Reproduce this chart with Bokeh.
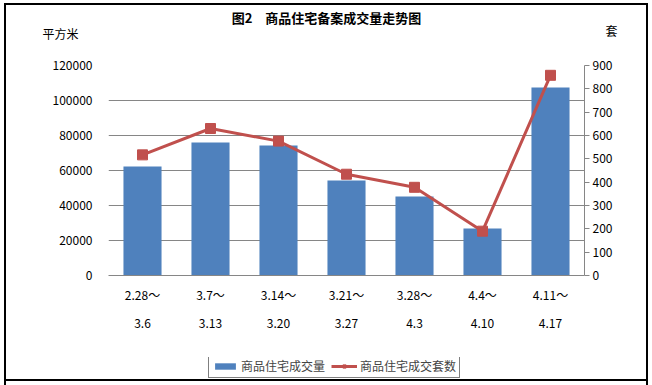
from bokeh.plotting import figure
from bokeh.layouts import column, row
from bokeh.models import (Range1d, LinearAxis, SingleIntervalTicker, NumeralTickFormatter,
                          Legend, LegendItem, FactorRange)
from bokeh.core.properties import value
from bokeh.embed import file_html
from bokeh.resources import INLINE

periods = ["2.28～\n3.6", "3.7～\n3.13", "3.14～\n3.20", "3.21～\n3.27",
           "3.28～\n4.3", "4.4～\n4.10", "4.11～\n4.17"]
area = [62300, 76000, 74300, 54300, 45100, 26900, 107400]      # 平方米
units = [517, 630, 576, 434, 378, 190, 858]                     # 套

title_text = "图2　商品住宅备案成交量走势图"
left_unit = "平方米"
right_unit = "套"
series_names = ["商品住宅成交量", "商品住宅成交套数"]

FONT = "Noto Sans CJK SC"
GRAY = "#868686"
BLUE = "#4F81BD"
RED = "#C0504D"

W = 652
HEAD_H = 45
FOOT_H = 28

line = "linear-gradient(#000,#000)"
side_lines = f"{line} 4px 0 / 2px 100% no-repeat, {line} 646px 0 / 2px 100% no-repeat"


def blank(h):
    f = figure(frame_width=W, frame_height=h, x_range=Range1d(0, W), y_range=Range1d(h, 0),
               output_backend="svg", toolbar_location=None, min_border=0,
               min_border_left=0, min_border_right=0, min_border_top=0, min_border_bottom=0,
               x_axis_type=None, y_axis_type=None)
    f.outline_line_color = None
    f.border_fill_color = None
    f.background_fill_color = None
    f.xgrid.visible = False
    f.ygrid.visible = False
    return f


# ---- header (title + unit labels) ----
head = blank(HEAD_H)
head.styles = {"background": f"{line} 4px 3px / 2px 100% no-repeat, "
                             f"{line} 646px 3px / 2px 100% no-repeat, "
                             f"{line} 4px 3px / 644px 2px no-repeat"}
head.text(x=[326], y=[17], text=[title_text], text_align="center", text_baseline="middle",
          text_font=value(FONT), text_font_style="bold", text_font_size="13px", text_color="black")
head.text(x=[60, 611], y=[33, 30], text=[left_unit, right_unit], text_align="center",
          text_baseline="middle", text_font=value(FONT), text_font_size="12px", text_color="black")

# ---- main chart ----
p = figure(x_range=FactorRange(*periods), y_range=Range1d(0, 120000),
           frame_width=476, frame_height=210, output_backend="svg", toolbar_location=None,
           min_border_left=108, min_border_right=68, min_border_top=20, min_border_bottom=82)
p.outline_line_color = None
p.border_fill_color = None
p.background_fill_color = "white"
p.styles = {"background": side_lines}
p.extra_y_ranges = {"cnt": Range1d(0, 900)}

bars = p.vbar(x=periods, top=area, width=0.56, fill_color=BLUE, line_color=None)
ln = p.line(x=periods, y=units, y_range_name="cnt", line_color=RED, line_width=3)
sc = p.scatter(x=periods, y=units, y_range_name="cnt", marker="square", size=10,
               fill_color=RED, line_color=RED)

la = p.left[0]
la.ticker = SingleIntervalTicker(interval=20000, num_minor_ticks=0)
la.formatter = NumeralTickFormatter(format="0")
la.axis_line_color = None
la.major_tick_line_color = None
la.minor_tick_line_color = None
la.major_label_standoff = 10
la.major_label_text_font = FONT
la.major_label_text_font_size = "12px"
la.major_label_text_color = "black"

ra = LinearAxis(y_range_name="cnt", ticker=SingleIntervalTicker(interval=100, num_minor_ticks=0))
ra.axis_line_color = GRAY
ra.major_tick_line_color = GRAY
ra.major_tick_out = 5
ra.major_tick_in = 0
ra.minor_tick_line_color = None
ra.major_label_standoff = 3
ra.major_label_text_font = FONT
ra.major_label_text_font_size = "12px"
ra.major_label_text_color = "black"
p.add_layout(ra, "right")

xa = p.below[0]
xa.axis_line_color = GRAY
xa.major_tick_line_color = None
xa.major_tick_out = 0
xa.major_tick_in = 0
xa.minor_tick_line_color = None
xa.axis_label_standoff = 0
xa.major_label_standoff = 10
xa.major_label_text_font = FONT
xa.major_label_text_font_size = "12px"
xa.major_label_text_line_height = 1.7
xa.major_label_text_color = "black"

p.xgrid.visible = False
p.ygrid.grid_line_color = GRAY
p.ygrid.grid_line_width = 1

# ---- footer with the legend (hidden key renderers carry the same series) ----
foot = blank(FOOT_H)
foot.styles = {"background": f"{side_lines}, {line} 4px 22px / 644px 2px no-repeat"}
idx = list(range(len(periods)))
kb = foot.vbar(x=idx, top=area, width=0.56, fill_color=BLUE, line_color=None, visible=False)
kl = foot.line(x=idx, y=units, line_color=RED, line_width=3, visible=False)
ks = foot.scatter(x=idx, y=units, marker="square", size=10, fill_color=RED, line_color=RED,
                  visible=False)

legend = Legend(items=[LegendItem(label=series_names[0], renderers=[kb]),
                       LegendItem(label=series_names[1], renderers=[kl, ks])],
                orientation="horizontal", location=(208, 7))
legend.label_text_font = FONT
legend.label_text_font_size = "12px"
legend.label_height = 14
legend.glyph_height = 8
legend.glyph_width = 26
legend.padding = 3
legend.spacing = 6
legend.margin = 0
legend.label_standoff = 3
legend.border_line_color = "black"
legend.border_line_width = 1
legend.background_fill_color = "white"
legend.inactive_fill_alpha = 0
foot.add_layout(legend)

layout = column(row(head), row(p), row(foot), spacing=0)

open("out.html", "w").write(file_html(layout, INLINE))
